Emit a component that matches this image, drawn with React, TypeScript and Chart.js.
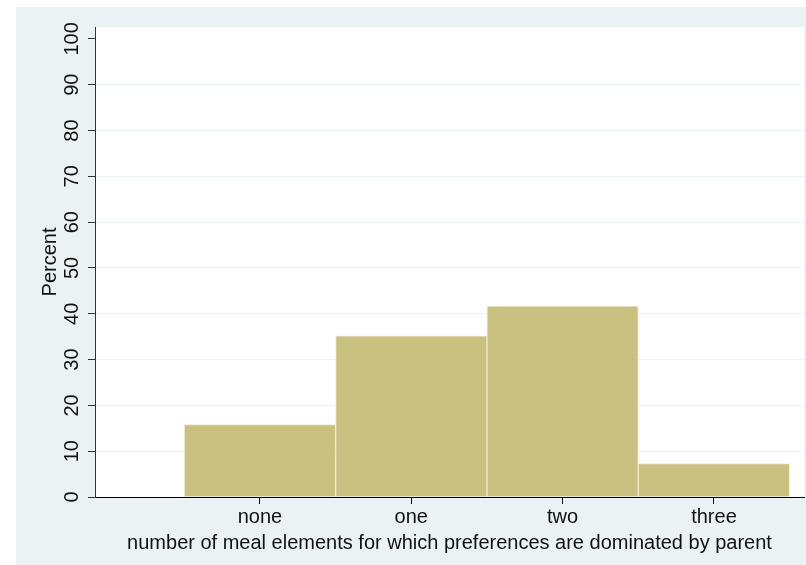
import React, { useEffect, useRef } from "react";
import { Chart, registerables } from "chart.js";

Chart.register(...registerables);

// Histogram of how many meal elements have preferences dominated by the parent
const categories = ["none", "one", "two", "three"];
const percents = [15.8, 35.2, 41.7, 7.3];
const yTicks = [0, 10, 20, 30, 40, 50, 60, 70, 80, 90, 100];

const PANEL_BG = "#EAF2F3";
const BAR_FILL = "#CAC080";
const BAR_EDGE = "#EEE9D2";
const TEXT = "#111";
const FONT = "'Liberation Sans', Arial, sans-serif";
const FONT_SIZE = 20;

const panelPlugin = {
  id: "panel",
  beforeDraw(chart: any) {
    const { ctx, chartArea } = chart;
    ctx.save();
    ctx.fillStyle = "#ffffff";
    ctx.fillRect(0, 0, chart.width, chart.height);
    ctx.fillStyle = PANEL_BG;
    ctx.fillRect(16, 7, chart.width - 16, chart.height - 7);
    ctx.fillStyle = "#ffffff";
    ctx.fillRect(chartArea.left, chartArea.top, chartArea.right - chartArea.left, chartArea.bottom - chartArea.top);
    ctx.restore();
  },
};

// Vertical (rotated) tick labels for the percent axis
const yLabelPlugin = {
  id: "yLabels",
  afterDraw(chart: any) {
    const { ctx } = chart;
    const y = chart.scales.y;
    ctx.save();
    ctx.fillStyle = TEXT;
    ctx.font = `${FONT_SIZE}px ${FONT}`;
    ctx.textAlign = "center";
    ctx.textBaseline = "middle";
    for (const v of yTicks) {
      const py = y.getPixelForValue(v);
      ctx.save();
      ctx.translate(y.right - 23, py);
      ctx.rotate(-Math.PI / 2);
      ctx.fillText(String(v), 0, 0);
      ctx.restore();
    }
    ctx.restore();
  },
};

export default function App() {
  const ref = useRef<HTMLCanvasElement | null>(null);

  useEffect(() => {
    if (!ref.current) return;
    const chart = new Chart(ref.current, {
      type: "bar",
      data: {
        datasets: [
          {
            data: categories.map((_, i) => ({ x: i, y: percents[i] })),
            backgroundColor: BAR_FILL,
            borderColor: BAR_EDGE,
            borderWidth: 1,
            barPercentage: 1,
            categoryPercentage: 1,
          },
        ],
      },
      options: {
        responsive: false,
        animation: false,
        layout: { padding: { left: 0, top: 27, right: 2, bottom: 0 } },
        plugins: { legend: { display: false }, tooltip: { enabled: false } },
        scales: {
          x: {
            type: "linear",
            min: -1.09,
            max: 3.595,
            offset: false,
            z: 1,
            afterBuildTicks(scale: any) {
              scale.ticks = categories.map((_, i) => ({ value: i }));
            },
            afterFit(scale: any) {
              scale.height = 68;
            },
            grid: { display: true, offset: false, drawOnChartArea: false, tickLength: 7, color: "#000", lineWidth: 1 },
            border: { display: true, color: "#000", width: 1 },
            ticks: {
              color: TEXT,
              font: { family: FONT, size: FONT_SIZE },
              padding: 1,
              maxRotation: 0,
              callback: (v: any) => categories[Math.round(Number(v))] ?? "",
            },
            title: {
              display: true,
              text: "number of meal elements for which preferences are dominated by parent",
              color: TEXT,
              font: { family: FONT, size: FONT_SIZE },
              padding: { top: 0, bottom: 10 },
            },
          },
          y: {
            type: "linear",
            min: 0,
            max: 102.6,
            afterBuildTicks(scale: any) {
              scale.ticks = yTicks.map((v) => ({ value: v }));
            },
            afterFit(scale: any) {
              scale.width = 95;
            },
            grid: {
              tickLength: 7,
              color: (c: any) => (c.tick && (c.tick.value === 0 || c.tick.value === 100) ? "rgba(0,0,0,0)" : PANEL_BG),
              tickColor: "#333",
              lineWidth: 1,
            },
            border: { display: true, color: "#333", width: 1 },
            ticks: { display: false },
            title: {
              display: true,
              text: "Percent",
              color: TEXT,
              font: { family: FONT, size: FONT_SIZE },
              padding: { top: 38, bottom: 0 },
            },
          },
        },
      },
      plugins: [panelPlugin, yLabelPlugin],
    });
    return () => chart.destroy();
  }, []);

  return (
    <div style={{ position: "absolute", left: 0, top: 0, width: 806, height: 565 }}>
      <canvas ref={ref} width={806} height={565} />
    </div>
  );
}
